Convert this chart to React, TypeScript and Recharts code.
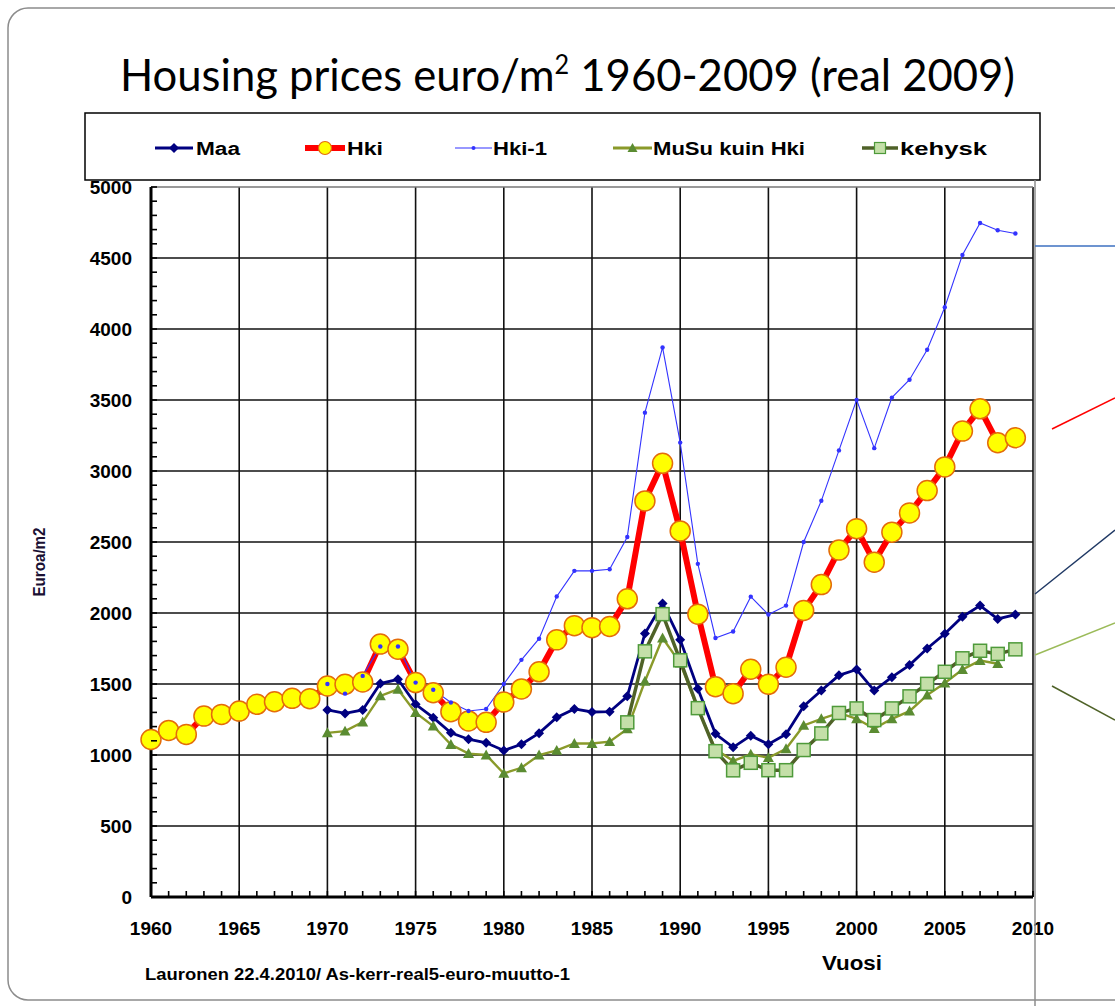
import React from 'react';
import { LineChart, Line, XAxis, YAxis, ReferenceLine } from 'recharts';

const years = [
  1960, 1961, 1962, 1963, 1964, 1965, 1966, 1967, 1968, 1969,
  1970, 1971, 1972, 1973, 1974, 1975, 1976, 1977, 1978, 1979,
  1980, 1981, 1982, 1983, 1984, 1985, 1986, 1987, 1988, 1989,
  1990, 1991, 1992, 1993, 1994, 1995, 1996, 1997, 1998, 1999,
  2000, 2001, 2002, 2003, 2004, 2005, 2006, 2007, 2008, 2009,
];

const maa = [
  null, null, null, null, null, null, null, null, null, null,
  1317, 1293, 1317, 1503, 1533, 1357, 1263, 1157, 1111, 1086,
  1032, 1076, 1154, 1265, 1324, 1303, 1305, 1413, 1856, 2067,
  1811, 1467, 1149, 1054, 1136, 1076, 1146, 1344, 1454, 1561,
  1602, 1454, 1548, 1633, 1750, 1854, 1974, 2052, 1958, 1989,
];

const hki = [
  1109, 1173, 1145, 1274, 1286, 1309, 1357, 1375, 1399, 1397,
  1486, 1498, 1514, 1781, 1745, 1510, 1439, 1305, 1240, 1230,
  1373, 1465, 1586, 1811, 1911, 1897, 1905, 2100, 2789, 3054,
  2578, 1992, 1481, 1432, 1604, 1498, 1618, 2018, 2200, 2443,
  2594, 2358, 2569, 2705, 2862, 3029, 3281, 3438, 3199, 3234,
];

const hki1 = [
  null, null, null, null, null, null, null, null, null, null,
  1500, 1432, 1557, 1764, 1764, 1510, 1460, 1370, 1310, 1324,
  1500, 1670, 1819, 2116, 2297, 2297, 2308, 2535, 3411, 3870,
  3200, 2346, 1824, 1870, 2115, 1989, 2052, 2500, 2790, 3145,
  3501, 3161, 3517, 3643, 3854, 4153, 4522, 4746, 4695, 4673,
];

const musu = [
  null, null, null, null, null, null, null, null, null, null,
  1156, 1168, 1232, 1416, 1463, 1298, 1204, 1074, 1010, 1000,
  870, 910, 1000, 1032, 1081, 1081, 1094, 1184, 1519, 1824,
  1648, 1324, 1040, 959, 1005, 981, 1044, 1208, 1255, 1296,
  1255, 1186, 1255, 1309, 1422, 1507, 1602, 1665, 1643, null,
];

const kehysk = [
  null, null, null, null, null, null, null, null, null, null,
  null, null, null, null, null, null, null, null, null, null,
  null, null, null, null, null, null, null, 1230, 1730, 1992,
  1667, 1330, 1027, 892, 945, 893, 893, 1035, 1152, 1296,
  1328, 1246, 1328, 1413, 1501, 1586, 1681, 1734, 1712, 1744,
];

const xTicks = [
  1960, 1961, 1962, 1963, 1964, 1965, 1966, 1967, 1968, 1969,
  1970, 1971, 1972, 1973, 1974, 1975, 1976, 1977, 1978, 1979,
  1980, 1981, 1982, 1983, 1984, 1985, 1986, 1987, 1988, 1989,
  1990, 1991, 1992, 1993, 1994, 1995, 1996, 1997, 1998, 1999,
  2000, 2001, 2002, 2003, 2004, 2005, 2006, 2007, 2008, 2009, 2010,
];
const xGrid = [1965, 1970, 1975, 1980, 1985, 1990, 1995, 2000, 2005, 2010];
const yTicks = [
  0, 100, 200, 300, 400, 500, 600, 700, 800, 900,
  1000, 1100, 1200, 1300, 1400, 1500, 1600, 1700, 1800, 1900,
  2000, 2100, 2200, 2300, 2400, 2500, 2600, 2700, 2800, 2900,
  3000, 3100, 3200, 3300, 3400, 3500, 3600, 3700, 3800, 3900,
  4000, 4100, 4200, 4300, 4400, 4500, 4600, 4700, 4800, 4900, 5000,
];
const yGrid = [500, 1000, 1500, 2000, 2500, 3000, 3500, 4000, 4500, 5000];

const data = years.map((y, i) => ({
  year: y,
  maa: maa[i],
  hki: hki[i],
  hki1: hki1[i],
  musu: musu[i],
  kehysk: kehysk[i],
}));

const C = {
  maa: '#000080',
  hkiLine: '#ff0000',
  hkiFill: '#ffff00',
  hkiStroke: '#e46c0a',
  hki1: '#3333ff',
  musuLine: '#8a9a2a',
  musuFill: '#5b8c32',
  kehyskLine: '#4f6228',
  kehyskFill: '#c4dfa8',
  kehyskStroke: '#4e9a3a',
};

const FONT = 'Arial, "Liberation Sans", sans-serif';

const isBad = (p: any) => p.cx == null || p.cy == null || p.value == null || isNaN(p.cx) || isNaN(p.cy);

const DiamondDot = (p: any) => {
  if (isBad(p)) return <g key={`md-${p.index}`} />;
  const s = 5;
  const { cx, cy } = p;
  return (
    <polygon
      key={`md-${p.index}`}
      points={`${cx},${cy - s} ${cx + s},${cy} ${cx},${cy + s} ${cx - s},${cy}`}
      fill={C.maa}
    />
  );
};

const CircleDot = (p: any) => {
  if (isBad(p)) return <g key={`hc-${p.index}`} />;
  return <circle key={`hc-${p.index}`} cx={p.cx} cy={p.cy} r={10} fill={C.hkiFill} stroke={C.hkiStroke} strokeWidth={1.5} />;
};

const SmallDot = (p: any) => {
  if (isBad(p)) return <g key={`sd-${p.index}`} />;
  return <circle key={`sd-${p.index}`} cx={p.cx} cy={p.cy} r={2.2} fill={C.hki1} />;
};

const TriDot = (p: any) => {
  if (isBad(p)) return <g key={`td-${p.index}`} />;
  const { cx, cy } = p;
  const s = 5.5;
  return (
    <polygon
      key={`td-${p.index}`}
      points={`${cx},${cy - s} ${cx + s},${cy + s * 0.8} ${cx - s},${cy + s * 0.8}`}
      fill={C.musuFill}
    />
  );
};

const SquareDot = (p: any) => {
  if (isBad(p)) return <g key={`kd-${p.index}`} />;
  const s = 6.5;
  return (
    <rect
      key={`kd-${p.index}`}
      x={p.cx - s}
      y={p.cy - s}
      width={2 * s}
      height={2 * s}
      fill={C.kehyskFill}
      stroke={C.kehyskStroke}
      strokeWidth={1.5}
    />
  );
};

const XTick = (props: any) => {
  const { x, y, payload } = props;
  const v = payload.value;
  return (
    <g>
      <line x1={x} x2={x} y1={y} y2={y - 6} stroke="#000" strokeWidth={1.6} />
      {v % 5 === 0 ? (
        <text x={x} y={y + 38} textAnchor="middle" fontFamily={FONT} fontWeight="bold" fontSize={19} fill="#000">
          {v}
        </text>
      ) : null}
    </g>
  );
};

const YTick = (props: any) => {
  const { x, y, payload } = props;
  const v = payload.value;
  return (
    <g>
      <line x1={x} x2={x + 6} y1={y} y2={y} stroke="#000" strokeWidth={1.6} />
      {v % 500 === 0 ? (
        <text x={x - 19} y={y + 7} textAnchor="end" fontFamily={FONT} fontWeight="bold" fontSize={19} fill="#000">
          {v}
        </text>
      ) : null}
    </g>
  );
};

const legendItems = [
  { key: 'maa', label: 'Maa', lx1: 155, lx2: 193, tx: 196, tw: 44 },
  { key: 'hki', label: 'Hki', lx1: 305, lx2: 345, tx: 347, tw: 36 },
  { key: 'hki1', label: 'Hki-1', lx1: 455, lx2: 492, tx: 493, tw: 54 },
  { key: 'musu', label: 'MuSu kuin Hki', lx1: 613, lx2: 652, tx: 653, tw: 152 },
  { key: 'kehysk', label: 'kehysk', lx1: 862, lx2: 898, tx: 900, tw: 87 },
];

const LegendSymbol = ({ k, x1, x2, y }: any) => {
  const cx = (x1 + x2) / 2;
  if (k === 'maa')
    return (
      <g>
        <line x1={x1} x2={x2} y1={y} y2={y} stroke={C.maa} strokeWidth={3} />
        <polygon points={`${cx},${y - 5} ${cx + 5},${y} ${cx},${y + 5} ${cx - 5},${y}`} fill={C.maa} />
      </g>
    );
  if (k === 'hki')
    return (
      <g>
        <line x1={x1} x2={x2} y1={y} y2={y} stroke={C.hkiLine} strokeWidth={6} />
        <circle cx={cx} cy={y} r={6.5} fill={C.hkiFill} stroke={C.hkiStroke} strokeWidth={1.2} />
      </g>
    );
  if (k === 'hki1')
    return (
      <g>
        <line x1={x1} x2={x2} y1={y} y2={y} stroke={C.hki1} strokeWidth={1.2} />
        <circle cx={cx} cy={y} r={2} fill={C.hki1} />
      </g>
    );
  if (k === 'musu')
    return (
      <g>
        <line x1={x1} x2={x2} y1={y} y2={y} stroke={C.musuLine} strokeWidth={3} />
        <polygon points={`${cx},${y - 5} ${cx + 5},${y + 4} ${cx - 5},${y + 4}`} fill={C.musuFill} />
      </g>
    );
  return (
    <g>
      <line x1={x1} x2={x2} y1={y} y2={y} stroke={C.kehyskLine} strokeWidth={3.5} />
      <rect x={cx - 5.5} y={y - 5.5} width={11} height={11} fill={C.kehyskFill} stroke={C.kehyskStroke} strokeWidth={1.2} />
    </g>
  );
};

export default function App() {
  return (
    <div style={{ position: 'absolute', left: 0, top: 0, width: 1115, height: 1006, background: '#fff', overflow: 'hidden' }}>
      <svg width={1115} height={1006} style={{ position: 'absolute', left: 0, top: 0 }}>
        <rect x={8} y={8} width={1140} height={992} rx={20} ry={20} fill="#fff" stroke="#8c8c8c" strokeWidth={1.5} />
      </svg>
      <div style={{ position: 'absolute', left: 0, top: 0 }}>
        <LineChart width={1115} height={1006} data={data} margin={{ top: 187, right: 82, bottom: 79, left: 91 }}>
          <XAxis
            dataKey="year"
            type="number"
            domain={[1960, 2010]}
            ticks={xTicks}
            interval={0}
            tickSize={0}
            tickMargin={0}
            tickLine={false}
            axisLine={{ stroke: '#000', strokeWidth: 3 }}
            tick={<XTick />}
            height={30}
          />
          <YAxis
            type="number"
            domain={[0, 5000]}
            ticks={yTicks}
            interval={0}
            tickSize={0}
            tickMargin={0}
            tickLine={false}
            axisLine={{ stroke: '#000', strokeWidth: 3 }}
            tick={<YTick />}
            width={60}
          />
          {xGrid.map((g) => (
            <ReferenceLine key={`xg-${g}`} x={g} stroke="#111" strokeWidth={1.6} />
          ))}
          {yGrid.map((g) => (
            <ReferenceLine key={`yg-${g}`} y={g} stroke={g === 5000 ? '#777' : '#111'} strokeWidth={1.6} />
          ))}
          <Line dataKey="maa" stroke={C.maa} strokeWidth={2.8} dot={DiamondDot} isAnimationActive={false} />
          <Line dataKey="hki" stroke={C.hkiLine} strokeWidth={6} dot={CircleDot} isAnimationActive={false} />
          <Line dataKey="hki1" stroke={C.hki1} strokeWidth={1.1} dot={SmallDot} isAnimationActive={false} />
          <Line dataKey="musu" stroke={C.musuLine} strokeWidth={2.4} dot={TriDot} isAnimationActive={false} />
          <Line dataKey="kehysk" stroke={C.kehyskLine} strokeWidth={3.5} dot={SquareDot} isAnimationActive={false} />
        </LineChart>
      </div>
      <svg width={1115} height={1006} style={{ position: 'absolute', left: 0, top: 0, pointerEvents: 'none' }}>
        <text
          x={120}
          y={91}
          fontFamily="Lato, 'Open Sans', sans-serif"
          fontSize={45}
          fill="#000"
          textLength={895}
          lengthAdjust="spacingAndGlyphs"
        >
          Housing prices euro/m
          <tspan fontSize={26} dy={-17}>2</tspan>
          <tspan fontSize={45} dy={17}> 1960-2009 (real 2009)</tspan>
        </text>
        <rect x={85} y={113} width={955} height={67} fill="#fff" stroke="#000" strokeWidth={1.5} />
        {legendItems.map((it) => (
          <g key={it.key}>
            <LegendSymbol k={it.key} x1={it.lx1} x2={it.lx2} y={148} />
            <text
              x={it.tx}
              y={155}
              fontFamily={FONT}
              fontWeight="bold"
              fontSize={18}
              fill="#000"
              textLength={it.tw}
              lengthAdjust="spacingAndGlyphs"
            >
              {it.label}
            </text>
          </g>
        ))}
        <line x1={1035} x2={1035} y1={180} y2={1006} stroke="#8c8c8c" strokeWidth={1.5} />
        <text
          transform="translate(45, 562) rotate(-90)"
          textAnchor="middle"
          fontFamily={FONT}
          fontWeight="bold"
          fontSize={17}
          fill="#1a1033"
          textLength={69}
          lengthAdjust="spacingAndGlyphs"
        >
          Euroa/m2
        </text>
        <text x={822} y={970} fontFamily={FONT} fontWeight="bold" fontSize={20} fill="#000" textLength={60} lengthAdjust="spacingAndGlyphs">
          Vuosi
        </text>
        <text x={145} y={980} fontFamily={FONT} fontWeight="bold" fontSize={17} fill="#000" textLength={425} lengthAdjust="spacingAndGlyphs">
          Lauronen 22.4.2010/ As-kerr-real5-euro-muutto-1
        </text>
        <line x1={1035} y1={246} x2={1115} y2={246} stroke="#3d70c0" strokeWidth={1.5} />
        <line x1={1052} y1={429} x2={1115} y2={398} stroke="#ff0000" strokeWidth={1.5} />
        <line x1={1035} y1={594} x2={1115} y2={530} stroke="#1f3864" strokeWidth={1.5} />
        <line x1={1035} y1={655} x2={1115} y2={623} stroke="#9bbb59" strokeWidth={1.5} />
        <line x1={1052} y1={686} x2={1115} y2={720} stroke="#4f6228" strokeWidth={1.5} />
      </svg>
    </div>
  );
}
